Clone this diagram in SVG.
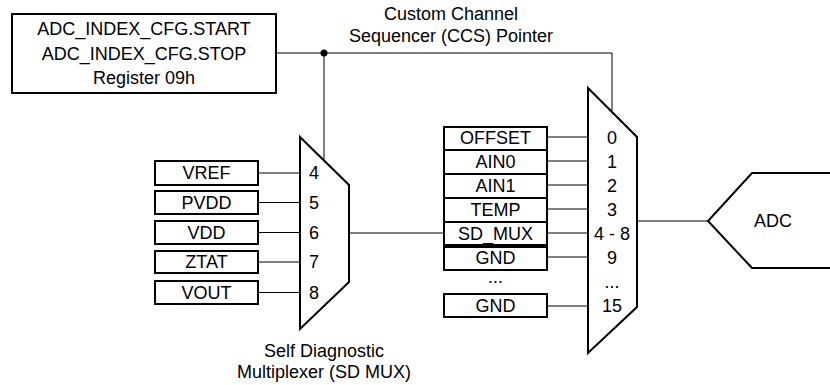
<svg xmlns="http://www.w3.org/2000/svg" width="830" height="385" viewBox="0 0 830 385">
<style>
text{font-family:"Liberation Sans",Arial,sans-serif;font-size:18px;fill:#000;text-anchor:middle}
.box{fill:#fff;stroke:#000;stroke-width:2}
.mux{fill:#fff;stroke:#000;stroke-width:2;stroke-linejoin:miter}
.wire{fill:none;stroke:#000;stroke-width:1}
</style>
<rect width="830" height="385" fill="#fff"/>
<g id="connectors">
<path class="wire" d="M276 53H612V112"/>
<path class="wire" d="M324 53V160"/>
<circle cx="324" cy="53" r="3.5" fill="#000"/>
<path class="wire" d="M258 173H300M258 202.5H300M258 232.5H300M258 262H300M258 292.5H300"/>
<path class="wire" d="M349 233H444"/>
<path class="wire" d="M547 137H588M547 161H588M547 185H588M547 209H588M547 233H588M547 257H588M547 306H588"/>
<path class="wire" d="M637 221H708"/>
</g>
<g id="title"><text x="451" y="20">Custom Channel</text><text x="451" y="42">Sequencer (CCS) Pointer</text></g>
<g id="register">
<rect class="box" x="12" y="14" width="264" height="79"/>
<text x="144" y="35">ADC_INDEX_CFG.START</text>
<text x="144" y="60">ADC_INDEX_CFG.STOP</text>
<text x="144" y="84">Register 09h</text>
</g>
<g id="vref"><rect class="box" x="155" y="161" width="103" height="24"/><text x="206.5" y="179">VREF</text></g>
<g id="pvdd"><rect class="box" x="155" y="191" width="103" height="23"/><text x="206.5" y="209">PVDD</text></g>
<g id="vdd"><rect class="box" x="155" y="221" width="103" height="23"/><text x="206.5" y="239">VDD</text></g>
<g id="ztat"><rect class="box" x="155" y="251" width="103" height="22"/><text x="206.5" y="268">ZTAT</text></g>
<g id="vout"><rect class="box" x="155" y="281" width="103" height="23"/><text x="206.5" y="299">VOUT</text></g>
<g id="sdmux">
<path class="mux" d="M300 137L349 185V282L300 329Z"/>
<text x="314" y="179">4</text><text x="314" y="209">5</text><text x="314" y="239">6</text><text x="314" y="268">7</text><text x="314" y="299">8</text>
<text x="324" y="357">Self Diagnostic</text>
<text x="324" y="378">Multiplexer (SD MUX)</text>
</g>
<g id="offset"><rect class="box" x="444" y="127" width="103" height="23"/><text x="495.5" y="144">OFFSET</text></g>
<g id="ain0"><rect class="box" x="444" y="150" width="103" height="24"/><text x="495.5" y="168">AIN0</text></g>
<g id="ain1"><rect class="box" x="444" y="174" width="103" height="24"/><text x="495.5" y="192">AIN1</text></g>
<g id="temp"><rect class="box" x="444" y="198" width="103" height="24"/><text x="495.5" y="216">TEMP</text></g>
<g id="sd_mux_in"><rect class="box" x="444" y="222" width="103" height="23"/><text x="495.5" y="240">SD_MUX</text></g>
<g id="gnd9"><rect class="box" x="444" y="247" width="103" height="23"/><text x="495.5" y="264">GND</text></g>
<g id="dots"><text x="495.5" y="284" style="font-size:8px">• • •</text></g>
<g id="gnd15"><rect class="box" x="444" y="294" width="103" height="23"/><text x="495.5" y="312">GND</text></g>
<g id="ccsmux">
<path class="mux" d="M588 88L637 137V307L588 353Z"/>
<text x="612" y="144">0</text><text x="612" y="168">1</text><text x="612" y="192">2</text><text x="612" y="216">3</text>
<text x="612" y="240">4 - 8</text><text x="612" y="264">9</text><text x="612" y="288">...</text><text x="612" y="312">15</text>
</g>
<g id="adc">
<path class="mux" d="M840 173H752L708 221L752 268H840"/>
<text x="773" y="227">ADC</text>
</g>
</svg>
